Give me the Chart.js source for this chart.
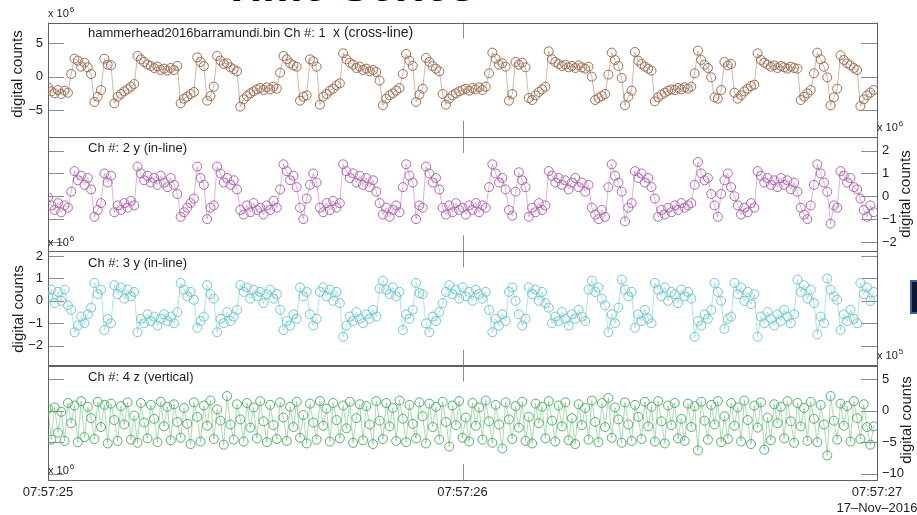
<!DOCTYPE html>
<html>
<head>
<meta charset="utf-8">
<script src="https://cdn.jsdelivr.net/npm/chart.js@4.4.1/dist/chart.umd.min.js"></script>
<style>
  html, body { margin: 0; padding: 0; background: #fff; }
  #wrap { position: relative; width: 917px; height: 515px; overflow: hidden; background: #fff; }
  #wrap canvas { position: absolute; left: 0; top: 0; }
  #heading { position: absolute; left: 0; width: 698px; top: -40px; line-height: 45px; text-align: center;
             font: bold 45px "Liberation Sans", Arial, sans-serif; color: #000; white-space: nowrap; }
  #marker { position: absolute; left: 910px; top: 280px; width: 12px; height: 34px; box-sizing: border-box;
            background: #0d1633; border: 2px solid #3d5c99; }
</style>
</head>
<body>
<div id="wrap">
  <div id="heading">Time Series</div>
  <canvas id="c1" width="917" height="515"></canvas>
  <canvas id="c2" width="917" height="515"></canvas>
  <canvas id="c3" width="917" height="515"></canvas>
  <canvas id="c4" width="917" height="515"></canvas>
  <div id="marker"></div>
</div>
<script>
// Sample spacing in seconds (samples start at 07:57:25.000)
const sampleInterval = 0.008;

// Time axis ticks (seconds after 07:57:25) and their labels
const timeTicks = [0, 1, 2];
const timeLabels = ['07:57:25', '07:57:26', '07:57:27'];
const dateLabel = '17\u2013Nov\u20132016';

// Y tick values per channel (in units of the exponent shown beside each axis)
const ticksCh1 = [-5, 0, 5];
const ticksCh2 = [-2, -1, 0, 1, 2];
const ticksCh3 = [-2, -1, 0, 1, 2];
const ticksCh4 = [-10, -5, 0, 5];

// Ch 1: x (cross-line), digital counts x 10^6
const ch1X = [
  -1.6, -2.2, -2.5, -2.0, -2.6, -2.1, -2.4, 0.4, 2.7, 2.4,
  1.5, 2.1, 1.4, 0.4, -3.8, -3.0, -2.0, 2.7, 1.8, 1.7,
  -4.0, -3.0, -2.6, -2.2, -1.9, -1.5, -1.1, 3.1, 2.6, 2.2,
  1.8, 1.6, 1.3, 1.5, 1.0, 1.2, 0.9, 1.3, 1.0, 1.6,
  -4.0, -3.3, -3.0, -2.6, -2.3, 2.9, 2.2, 1.6, -3.6, -2.9,
  -1.5, 3.1, 2.4, 1.9, 2.0, 1.4, 1.1, 0.8, -4.5, -3.4,
  -2.9, -2.5, -2.2, -1.9, -1.7, -2.0, -1.6, -1.9, -1.5, -1.8,
  0.6, 3.1, 2.6, 2.0, 1.7, 1.5, -3.6, -3.0, -2.8, 2.6,
  2.3, 1.5, -4.2, -3.0, -2.6, -2.1, -1.8, -1.3, -1.0, 3.5,
  2.6, 2.1, 1.8, 1.3, 1.5, 1.0, 1.2, 0.8, 1.0, 0.7,
  -0.6, -4.3, -3.3, -2.8, -2.5, -2.1, -1.7, 0.4, 3.4, 2.4,
  1.6, -3.8, -2.7, -1.8, 2.8, 2.2, 1.6, 1.2, 0.8, -2.6,
  -4.2, -3.3, -2.8, -2.5, -2.2, -2.0, -1.8, -2.1, -1.7, -1.9,
  -1.6, -2.0, -1.5, 0.5, 3.6, 2.7, 1.8, 2.0, 1.5, -3.6,
  -2.6, 2.2, 1.8, 2.1, 1.4, -3.2, -3.5, -2.8, -2.3, -1.9,
  -1.5, 3.8, 2.6, 2.2, 1.9, 1.6, 1.8, 1.4, 1.6, 1.3,
  1.7, 1.4, 1.2, 1.5, 0.0, -3.5, -3.2, -2.9, -2.6, 0.3,
  3.6, 2.5, 1.6, -0.2, -4.3, -3.0, -2.1, 3.7, 2.4, 1.9,
  1.5, 1.2, 0.9, -3.7, -3.1, -2.7, -2.4, -2.1, -1.9, -2.0,
  -1.7, -1.9, -1.6, -1.8, -1.5, 0.5, 3.9, 2.5, 1.8, 1.3,
  -0.1, -3.1, -3.3, -2.0, 2.2, 1.7, 1.9, -2.4, -3.3, -2.8,
  -2.2, -1.8, -1.4, -1.2, 3.5, 2.5, 2.1, 1.8, 1.5, 1.7,
  1.3, 1.6, 1.4, 1.2, 1.5, 1.3, 1.2, -3.5, -3.0, -2.5,
  -2.0, 0.5, 3.6, 2.6, 1.5, -0.1, -4.3, -3.1, -1.8, 3.2,
  2.5, 2.0, 1.7, 1.3, 1.0, -4.4, -3.4, -2.8, -2.4, -2.0
];

// Ch 2: y (in-line), digital counts x 10^6
const ch2Y = [
  -0.05, -0.4, -0.6, -0.3, -0.7, -0.4, -0.5, 0.2, 1.1, 0.7,
  0.9, 0.5, 0.8, 0.3, -0.9, -0.6, -0.3, 1.0, 0.6, 0.9,
  -0.7, -0.4, -0.6, -0.3, -0.5, -0.2, -0.4, 1.3, 1.0, 0.7,
  0.9, 0.6, 0.8, 0.5, 0.9, 0.6, 0.4, 0.8, 0.5, 0.1,
  -0.9, -0.7, -0.5, -0.3, -0.1, 1.3, 0.8, 0.5, -1.0, -0.5,
  -0.4, 1.3, 1.0, 0.6, 0.8, 0.5, 0.7, 0.3, -0.6, -0.8,
  -0.4, -0.7, -0.3, -0.6, -0.5, -0.8, -0.4, -0.6, -0.2, -0.5,
  0.3, 1.4, 1.1, 0.7, 0.9, 0.4, -0.5, -1.0, -0.1, 0.5,
  1.0, 0.6, -0.5, -0.7, -0.3, -0.6, -0.2, -0.5, -0.3, 1.4,
  1.1, 0.8, 1.0, 0.6, 0.9, 0.5, 0.8, 0.4, 0.7, 0.2,
  -0.3, -0.8, -0.5, -0.9, -0.6, -0.4, -0.7, 0.4, 1.4, 0.9,
  0.6, -1.0, -0.4, -0.5, 1.3, 1.0, 0.6, 0.8, 0.3, -0.5,
  -0.8, -0.4, -0.7, -0.3, -0.6, -0.5, -0.8, -0.4, -0.6, -0.3,
  -0.7, -0.4, -0.5, 0.4, 1.4, 1.0, 0.6, 0.8, 0.3, -0.6,
  -0.85, 0.2, 1.05, 0.7, 0.4, -0.9, -0.5, -0.7, -0.3, -0.6,
  -0.4, 1.1, 0.9, 0.6, 0.8, 0.5, 0.7, 0.3, 0.6, 0.8,
  0.4, 0.6, 0.2, 0.5, -0.5, -0.8, -1.0, -0.6, -0.9, 0.4,
  1.4, 0.9, 0.6, 0.2, -1.1, -0.5, -0.3, 1.1, 0.8, 1.0,
  0.6, 0.8, 0.4, -0.1, -0.9, -0.6, -0.8, -0.5, -0.7, -0.4,
  -0.6, -0.3, -0.5, -0.4, -0.3, 0.5, 1.5, 1.0, 0.7, 0.8,
  0.1, -0.4, -0.9, 0.1, 0.7, 1.0, 0.4, 0.0, -0.4, -0.8,
  -0.5, -0.7, -0.3, -0.5, 1.1, 0.9, 0.6, 0.8, 0.5, 0.7,
  0.4, 0.8, 0.5, 0.7, 0.3, 0.6, 0.2, -0.5, -0.8, -1.0,
  -0.4, 0.5, 1.4, 1.0, 0.6, 0.2, -1.2, -0.4, -0.5, 1.1,
  0.9, 0.6, 0.8, 0.4, 0.3, -0.1, -0.6, -0.9, -0.4, -0.7
];

// Ch 3: y (in-line), digital counts x 10^6
const ch3Y = [
  0.2, 0.5, -0.1, 0.4, 0.0, 0.5, -0.2, -0.4, -1.4, -1.1,
  -0.7, -1.0, -0.6, -0.3, 0.8, 0.3, 0.5, -1.3, -0.8, -1.0,
  0.7, 0.3, 0.6, 0.1, 0.5, 0.2, 0.4, -1.4, -0.8, -1.0,
  -0.6, -0.9, -0.7, -1.1, -0.8, -0.6, -0.9, -0.7, -1.0, -0.5,
  0.8, 0.5, 0.2, 0.4, 0.05, -1.2, -0.9, -0.7, 0.7, 0.3,
  0.1, -1.4, -0.8, -1.0, -0.5, -0.9, -0.7, -0.4, 0.7, 0.4,
  0.6, 0.1, 0.5, 0.2, 0.4, -0.1, 0.3, 0.5, 0.1, 0.3,
  -0.4, -1.3, -0.9, -1.1, -0.6, -0.8, 0.6, 0.2, 0.4, -0.6,
  -1.1, -0.8, 0.4, 0.6, 0.2, 0.5, 0.0, 0.4, -0.1, -1.6,
  -1.1, -0.7, -0.9, -0.5, -0.8, -1.0, -0.6, -0.8, -0.4, -0.7,
  0.55, 0.9, 0.5, 0.3, 0.6, 0.2, 0.4, -1.3, -0.6, -0.8,
  -0.4, 0.8, 0.35, 0.3, -1.0, -1.4, -0.7, -0.9, -0.5, -0.1,
  0.4, 0.7, 0.3, 0.5, 0.1, 0.6, 0.2, 0.4, 0.0, 0.5,
  0.3, 0.1, 0.4, -0.4, -1.4, -0.8, -1.1, -0.6, -0.9, 0.4,
  0.6, 0.0, -0.6, -1.1, -0.8, 0.6, 0.3, 0.5, 0.0, 0.4,
  -0.1, -0.3, -1.0, -0.7, -0.9, -0.5, -0.8, -1.1, -0.6, -0.8,
  -0.4, -0.7, -0.9, 0.5, 0.9, 0.4, 0.6, 0.1, -0.2, -1.4,
  -0.6, -1.0, -0.3, 0.95, 0.5, 0.2, 0.4, -1.2, -0.6, -0.9,
  -0.4, -0.8, -1.0, 0.8, 0.5, 0.2, 0.6, 0.0, 0.4, 0.3,
  -0.1, 0.5, 0.2, 0.4, 0.1, -1.6, -0.9, -1.1, -0.6, -0.8,
  -0.4, 0.8, 0.4, 0.0, -1.25, -0.8, -0.7, 0.8, 0.3, 0.6,
  0.0, 0.4, -0.15, 0.3, -1.6, -0.7, -1.0, -0.5, -0.8, -1.1,
  -0.6, -0.9, -0.4, -0.7, -1.0, -0.6, 0.95, 0.4, 0.7, 0.1,
  0.5, -0.1, -1.5, -0.7, -1.0, 1.0, 0.5, 0.2, 0.05, -1.3,
  -0.6, -0.9, -0.4, -0.8, -1.0, 0.8, 0.3, 0.6, 0.0, 0.4
];

// Ch 4: z (vertical), digital counts x 10^5
const ch4Z = [
  0.3, -4.6, 0.5, -3.5, -0.2, -4.8, 1.2, -2.0, 0.8, -5.0,
  1.5, -4.2, 0.6, -1.2, -4.5, 1.4, -2.6, 0.9, -5.2, 1.1,
  -1.5, -4.8, 0.7, -2.2, 1.3, -4.6, -0.8, -5.1, 1.2, -1.9,
  -4.4, 0.9, -1.3, -5.0, 1.4, -2.5, 0.6, -4.7, 1.0, -1.8,
  -4.3, 0.4, -2.1, -5.3, 1.3, -1.0, -4.9, 0.8, -2.4, 1.6,
  -4.5, 0.2, -1.6, -5.4, 2.3, -2.2, -4.6, 1.0, -1.4, -4.9,
  1.2, -2.7, 0.5, -4.4, 1.5, -1.7, -5.0, 0.9, -2.3, -4.5,
  1.3, -1.1, -4.8, 0.6, -2.6, 1.4, -4.3, -0.7, -5.2, 1.1,
  -1.9, -4.6, 1.5, -2.4, 0.3, -4.9, 1.2, -1.5, -4.4, 0.8,
  -2.8, 1.4, -5.1, -1.2, 1.0, -4.7, 0.7, -2.2, -5.3, 1.5,
  -1.6, -4.5, 1.2, -2.5, 0.4, -4.8, 1.6, -1.3, -5.0, 0.9,
  -2.1, -4.4, 1.3, -0.9, -5.2, 1.1, -2.6, 0.6, -4.6, 1.4,
  -1.8, -5.7, 0.8, -2.3, 1.5, -4.3, -1.1, -4.9, 1.2, -2.4,
  0.5, -4.6, 1.6, -1.7, -5.1, 0.9, -2.2, -6.0, 1.3, -1.4,
  -4.5, 0.7, -2.7, 1.4, -4.8, -1.0, -5.2, 1.1, -2.0, 0.6,
  -4.4, 1.5, -1.6, -4.9, 0.8, -2.5, 1.3, -4.7, -1.2, -5.3,
  1.0, -2.3, 0.4, -4.6, 1.6, -1.8, -5.0, 1.2, -2.6, 2.0,
  -4.3, 0.5, -1.4, -5.1, 1.3, -2.2, -4.8, 0.9, -1.0, -4.5,
  1.4, -2.5, 0.6, -4.9, 1.5, -1.7, -5.2, 0.8, -2.3, 1.2,
  -4.4, -1.3, -4.8, 1.1, -2.6, 0.7, -6.3, 1.4, -1.6, -4.6,
  0.9, -2.2, 1.5, -5.0, -0.9, -4.5, 1.2, -2.4, 0.5, -4.9,
  1.6, -1.5, -5.3, 0.8, -2.7, 1.3, -6.2, -1.1, -4.7, 1.0,
  -2.0, 0.6, -4.4, 1.5, -1.7, -5.1, 1.2, -2.5, 0.4, -4.8,
  1.4, -1.3, -5.0, 0.9, -2.2, -7.1, 2.3, -1.6, -4.6, 1.1,
  -2.4, 0.7, -4.9, 1.5, -1.2, -4.5, 1.0, -2.6, -5.4, -2.5
];

const FONT = '"Liberation Sans", Arial, Helvetica, sans-serif';
Chart.defaults.font.family = FONT;

// Layout of the four stacked panels (pixels)
const PLOT_LEFT = 48, PLOT_RIGHT = 877, AXIS_W = 40;
const PANEL_TOPS = [22.5, 136.9, 251.3, 365.7];
const PANEL_H = 114.4;
const TIME_AXIS_H = 515 - (PANEL_TOPS[3] + PANEL_H);

const toPoints = arr => arr.map((v, i) => ({ x: i * sampleInterval, y: v }));
const fmtTick = v => (v < 0 ? '\u2212' + Math.abs(v) : String(v));

// Box, inward tick marks and annotation text for each panel
const panelDecor = {
  id: 'panelDecor',
  beforeDatasetsDraw(chart, _args, o) {
    const { ctx, chartArea: a } = chart;
    const xs = chart.scales.x, ys = chart.scales.y;
    ctx.save();
    ctx.lineWidth = 1;
    ctx.strokeStyle = '#8c8c8c';
    ctx.beginPath();
    o.yTicks.forEach(v => {
      const p = Math.round(ys.getPixelForValue(v)) + 0.5;
      ctx.moveTo(a.left, p); ctx.lineTo(a.left + o.tickLen, p);
      ctx.moveTo(a.right - o.tickLen, p); ctx.lineTo(a.right, p);
    });
    o.xTicks.forEach(v => {
      const p = Math.round(xs.getPixelForValue(v)) + 0.5;
      ctx.moveTo(p, a.top); ctx.lineTo(p, a.top + o.tickLen);
      ctx.moveTo(p, a.bottom - o.tickLen); ctx.lineTo(p, a.bottom);
    });
    ctx.stroke();
    ctx.strokeStyle = '#606060';
    ctx.strokeRect(Math.round(a.left) + 0.5, Math.round(a.top) + 0.5,
                   Math.round(a.right - a.left), Math.round(a.bottom - a.top));
    ctx.restore();
  },
  afterDraw(chart, _args, o) {
    const ctx = chart.ctx;
    ctx.save();
    ctx.fillStyle = '#1e1e1e';
    ctx.textBaseline = 'alphabetic';
    ctx.textAlign = 'left';
    (o.titles || []).forEach(t => {
      ctx.font = t.size + 'px ' + FONT;
      ctx.fillText(t.text, t.x, t.y);
    });
    (o.exponents || []).forEach(e => {
      ctx.font = '11px ' + FONT;
      ctx.fillText('x 10', e.x, e.y);
      const w = ctx.measureText('x 10').width;
      ctx.font = '8px ' + FONT;
      ctx.fillText(e.pow, e.x + w + 1, e.y - 5);
    });
    if (o.axisTitle) {
      ctx.font = '15px ' + FONT;
      ctx.textAlign = 'center';
      ctx.textBaseline = 'middle';
      ctx.translate(o.axisTitle.x, o.axisTitle.y);
      ctx.rotate(-Math.PI / 2);
      ctx.fillText('digital counts', 0, 0);
    }
    ctx.restore();
  }
};

function makePanel(id, k, cfg) {
  const top = PANEL_TOPS[k];
  const showTime = k === 3;
  const leftAxis = cfg.side === 'left';
  const padding = {
    top: top,
    bottom: showTime ? 0 : 515 - (top + PANEL_H),
    left: leftAxis ? PLOT_LEFT - AXIS_W : PLOT_LEFT,
    right: leftAxis ? 917 - PLOT_RIGHT : 917 - PLOT_RIGHT - AXIS_W
  };
  return new Chart(document.getElementById(id), {
    type: 'scatter',
    data: {
      datasets: [{
        data: toPoints(cfg.values),
        showLine: true,
        borderColor: cfg.line,
        borderWidth: 0.75,
        pointRadius: 4.5,
        pointBorderWidth: 1,
        pointBorderColor: cfg.marker,
        pointBackgroundColor: 'rgba(0,0,0,0)',
        tension: 0
      }]
    },
    options: {
      responsive: false,
      animation: false,
      devicePixelRatio: 1,
      events: [],
      layout: { padding },
      plugins: {
        legend: { display: false },
        tooltip: { enabled: false },
        panelDecor: {
          yTicks: cfg.ticks, xTicks: timeTicks, tickLen: 16,
          titles: cfg.titles, exponents: cfg.exponents, axisTitle: cfg.axisTitle
        }
      },
      scales: {
        x: {
          type: 'linear', min: 0, max: 2,
          display: showTime,
          grid: { display: false, drawTicks: false, tickLength: 0 },
          border: { display: false },
          afterBuildTicks: s => { s.ticks = timeTicks.map(v => ({ value: v })); },
          afterFit: s => {
            if (showTime) s.height = TIME_AXIS_H;
            s.paddingLeft = 0;
            s.paddingRight = 0;
          },
          ticks: {
            autoSkip: false, maxRotation: 0, padding: 5,
            color: '#1e1e1e', font: { size: 13 },
            callback: v => {
              const i = timeTicks.indexOf(v);
              return i === timeTicks.length - 1 ? [timeLabels[i], dateLabel] : timeLabels[i];
            }
          }
        },
        y: {
          type: 'linear', position: cfg.side,
          min: cfg.range[0], max: cfg.range[1],
          grid: { display: false, drawTicks: false, tickLength: 0 },
          border: { display: false },
          afterBuildTicks: s => { s.ticks = cfg.ticks.map(v => ({ value: v })); },
          afterFit: s => { s.width = AXIS_W; s.paddingTop = 0; s.paddingBottom = 0; },
          ticks: { autoSkip: false, padding: 5, color: '#1e1e1e', font: { size: 13 }, callback: fmtTick }
        }
      }
    },
    plugins: [panelDecor]
  });
}

makePanel('c1', 0, {
  values: ch1X, ticks: ticksCh1, range: [-9.03, 8.12], side: 'left',
  marker: '#9c6d52', line: 'rgba(156,109,82,0.65)',
  titles: [{ text: 'hammerhead2016barramundi.bin Ch #: 1', x: 88, y: 37, size: 13 },
           { text: 'x (cross-line)', x: 333, y: 37, size: 14 }],
  exponents: [{ x: 48, y: 17, pow: '6' }],
  axisTitle: { x: 18, y: 74 }
});
makePanel('c2', 1, {
  values: ch2Y, ticks: ticksCh2, range: [-2.41, 2.6], side: 'right',
  marker: '#b066b0', line: 'rgba(176,102,176,0.65)',
  titles: [{ text: 'Ch #: 2 y (in-line)', x: 88, y: 152, size: 13 }],
  exponents: [{ x: 877, y: 131, pow: '6' }],
  axisTitle: { x: 906, y: 194 }
});
makePanel('c3', 2, {
  values: ch3Y, ticks: ticksCh3, range: [-2.89, 2.21], side: 'left',
  marker: '#72c7cb', line: 'rgba(114,199,203,0.7)',
  titles: [{ text: 'Ch #: 3 y (in-line)', x: 88, y: 267, size: 13 }],
  exponents: [{ x: 48, y: 246, pow: '6' }],
  axisTitle: { x: 19, y: 309 }
});
makePanel('c4', 3, {
  values: ch4Z, ticks: ticksCh4, range: [-11.0, 7.1], side: 'right',
  marker: '#52b065', line: 'rgba(82,176,101,0.65)',
  titles: [{ text: 'Ch #: 4 z (vertical)', x: 88, y: 381, size: 13 }],
  exponents: [{ x: 877, y: 359, pow: '5' }, { x: 48, y: 474, pow: '6' }],
  axisTitle: { x: 907, y: 420 }
});
</script>
</body>
</html>
